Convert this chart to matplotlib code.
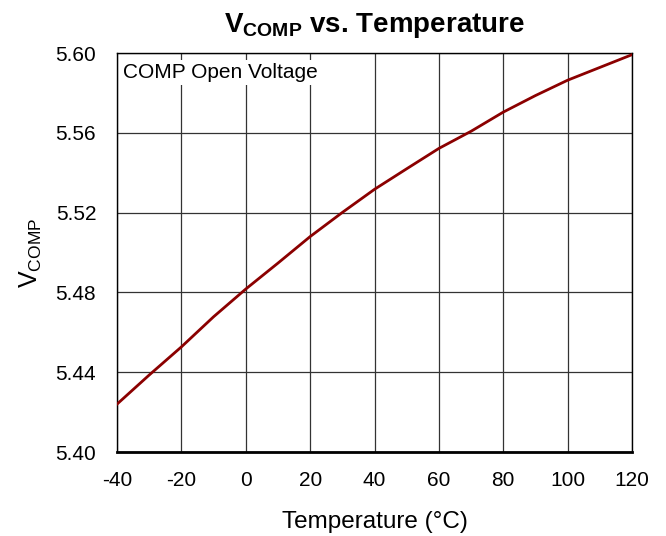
import matplotlib
matplotlib.use("Agg")
import matplotlib.pyplot as plt

plt.rcParams['font.family'] = ['Liberation Sans', 'DejaVu Sans']
plt.rcParams['mathtext.fontset'] = 'custom'
plt.rcParams['mathtext.rm'] = 'Liberation Sans'
plt.rcParams['mathtext.it'] = 'Liberation Sans'
plt.rcParams['mathtext.bf'] = 'Liberation Sans:bold'

temperature = [-40, -30, -20, -10, 0, 10, 20, 30, 40, 50, 60, 70, 80, 90, 100, 110, 120]
vcomp = [5.424, 5.4386, 5.4527, 5.4678, 5.4817, 5.4947, 5.5080, 5.5201, 5.5317, 5.5420,
         5.5522, 5.5608, 5.5704, 5.5787, 5.5864, 5.5928, 5.5992]
xticks = [-40, -20, 0, 20, 40, 60, 80, 100, 120]
yticks = [5.40, 5.44, 5.48, 5.52, 5.56, 5.60]

fig = plt.figure(figsize=(6.66, 5.36), dpi=100)
ax = fig.add_axes([0.1757, 0.1567, 0.7733, 0.7443])

ax.plot(temperature, vcomp, color='#8B0000', linewidth=2, zorder=3)

ax.set_xlim(-40, 120)
ax.set_ylim(5.40, 5.60)
ax.set_xticks(xticks)
ax.set_xticklabels([str(t) for t in xticks])
ax.set_yticks(yticks)
ax.set_yticklabels([f"{v:.2f}" for v in yticks])
ax.grid(True, color='#333333', linewidth=0.9)
ax.set_axisbelow(True)
ax.tick_params(axis='y', length=0, labelsize=15, pad=15)
ax.tick_params(axis='x', length=0, labelsize=15, pad=14)
for s in ax.spines.values():
    s.set_color('black')
    s.set_linewidth(1.0)
ax.spines['bottom'].set_linewidth(2.0)

ax.text(0.012, 0.975, 'COMP Open Voltage', transform=ax.transAxes, fontsize=15,
        va='top', ha='left', bbox=dict(facecolor='white', edgecolor='none', pad=2), zorder=4)

ax.set_title(r'$\mathbf{V_{COMP}}$' + ' vs. Temperature', fontsize=20, fontweight='bold', pad=15)
ax.set_xlabel('Temperature (°C)', fontsize=17.5, labelpad=15)
ax.set_ylabel(r'$\mathregular{V_{COMP}}$', fontsize=18, labelpad=8)

fig.savefig('out.png', dpi=100)
